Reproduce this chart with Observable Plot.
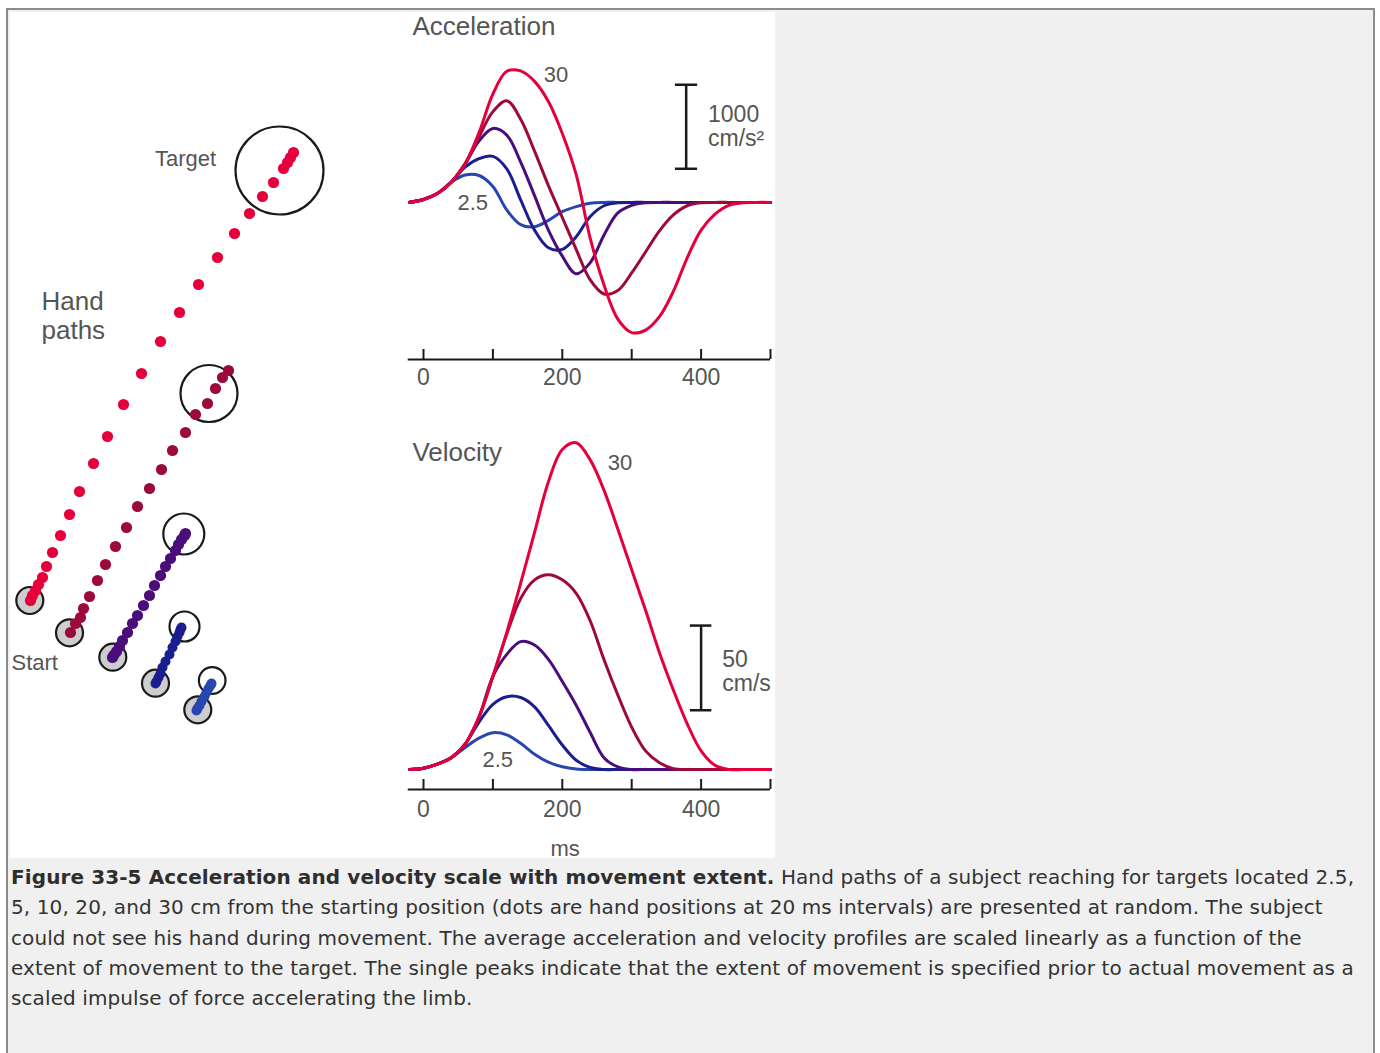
<!DOCTYPE html>
<html lang="en">
<head>
<meta charset="utf-8">
<title>Figure 33-5 Acceleration and velocity scale with movement extent</title>
<script src="https://cdn.jsdelivr.net/npm/d3@7"></script>
<script src="https://cdn.jsdelivr.net/npm/@observablehq/plot@0.6"></script>
<style>
  html, body { margin: 0; padding: 0; background: #ffffff; }
  #page { position: absolute; left: 6px; top: 8px; width: 1365px; height: 1060px;
          border: 2px solid #8c8c8c; border-bottom: none; background: #f0f0f0; }
  #figure { position: absolute; left: 2px; top: 2px; width: 765px; height: 846px; background: #ffffff; }
  #hands, #accel, #veloc { position: absolute; }
  #hands { left: 0; top: 0; }
  #accel { left: 395px; top: 0; }
  #veloc { left: 395px; top: 408px; }
  #caption { position: absolute; left: 3px; top: 852px; font-family: "DejaVu Sans", Verdana, sans-serif;
             font-size: 20px; line-height: 30.25px; letter-spacing: 0.1px; color: #333; white-space: nowrap; }
  #caption b { color: #2e2e2e; }
</style>
</head>
<body>
<div id="page">
  <div id="figure">
    <div id="hands"></div>
    <div id="accel"></div>
    <div id="veloc"></div>
  </div>
  <div id="caption"><b>Figure 33-5 Acceleration and velocity scale with movement extent.</b> Hand paths of a subject reaching for targets located 2.5,<br>5, 10, 20, and 30 cm from the starting position (dots are hand positions at 20 ms intervals) are presented at random. The subject<br>could not see his hand during movement. The average acceleration and velocity profiles are scaled linearly as a function of the<br>extent of movement to the target. The single peaks indicate that the extent of movement is specified prior to actual movement as a<br>scaled impulse of force accelerating the limb.</div>
</div>

<script>
// Movement extents (cm), drawn smallest first so the 30 cm trace sits on top
const extents = ["2.5", "5", "10", "20", "30"];
const extentColors = ["#2746b0", "#1b1e8f", "#4a0d7a", "#9b0a3a", "#e5003b"];

// Sample times (ms) for the averaged profiles
const timeMs = [-20, 0, 20, 40, 60, 80, 100, 120, 140, 160, 180, 200, 220, 240, 260,
                280, 300, 320, 340, 360, 380, 400, 420, 440, 460, 480, 500];
const timeTicks = [0, 100, 200, 300, 400, 500];
const timeLabels = [0, 200, 400];

// Acceleration profiles (cm/s^2)
const accel2_5 = [2, 35, 105, 240, 325, 320, 190, -90, -265, -290, -214, -110, -50, -10, 0, 0, 0, 0, 0, 0, 0, 0, 0, 0, 0, 0, 0];
const accel5   = [2, 35, 105, 240, 420, 520, 548, 400, 30, -330, -540, -560, -410, -170, -40, -5, 0, 0, 0, 0, 0, 0, 0, 0, 0, 0, 0];
const accel10  = [2, 35, 105, 240, 460, 730, 880, 800, 480, 80, -330, -640, -850, -720, -390, -125, -35, -5, 0, 0, 0, 0, 0, 0, 0, 0, 0];
const accel20  = [2, 35, 105, 240, 460, 780, 1080, 1210, 990, 610, 200, -180, -560, -920, -1090, -1050, -840, -590, -340, -150, -40, -5, 0, 0, 0, 0, 0];
const accel30  = [2, 35, 105, 240, 460, 830, 1290, 1560, 1565, 1440, 1200, 820, 330, -420, -980, -1390, -1550, -1520, -1360, -1060, -660, -330, -140, -35, -5, 0, 0];

// Velocity profiles (cm/s)
const veloc2_5 = [0, 0.8, 3.2, 7, 13, 18.5, 21.7, 20.5, 15.5, 9, 4.3, 1.6, 0.3, 0, 0, 0, 0, 0, 0, 0, 0, 0, 0, 0, 0, 0, 0];
const veloc5   = [0, 0.8, 3.2, 7, 15, 28, 38.5, 43, 42.5, 37, 26, 14.5, 5.5, 1.2, 0, 0, 0, 0, 0, 0, 0, 0, 0, 0, 0, 0, 0];
const veloc10  = [0, 0.8, 3.2, 7, 15, 31, 55, 68, 75.5, 73.5, 65, 52, 38, 22, 7, 1.5, 0, 0, 0, 0, 0, 0, 0, 0, 0, 0, 0];
const veloc20  = [0, 0.8, 3.2, 7, 15, 31, 55, 80, 101, 112, 115, 112, 104, 88, 65, 44, 25, 11, 4, 0.5, 0, 0, 0, 0, 0, 0, 0];
const veloc30  = [0, 0.8, 3.2, 7, 15, 31, 55, 81, 110, 140, 170, 189, 193, 183, 165, 142, 118, 94, 69, 47, 27, 11, 2.5, 0, 0, 0, 0];

// Hand positions every 20 ms, workspace units (x right, y up), start to target
const path2_5 = [[18.6,14.8],[18.7,15.0],[18.9,15.3],[19.1,15.7],[19.4,16.2],[19.6,16.6],[19.8,17.0],[20.0,17.3],[20.1,17.5]];
const path5   = [[14.5,17.5],[14.6,17.7],[14.8,18.1],[15.0,18.5],[15.2,19.1],[15.5,19.7],[15.9,20.4],[16.2,21.1],
                 [16.5,21.7],[16.7,22.2],[16.9,22.6],[17.0,22.9],[17.1,23.1]];
const path10  = [[10.2,20.1],[10.35,20.35],[10.6,20.7],[10.9,21.2],[11.2,21.8],[11.7,22.6],[12.2,23.5],[12.7,24.3],
                 [13.3,25.3],[13.9,26.3],[14.4,27.3],[15.0,28.3],[15.5,29.2],[16.0,30.0],[16.5,30.8],[16.8,31.4],
                 [17.1,31.9],[17.4,32.3],[17.5,32.5]];
const path20  = [[6.0,22.6],[6.5,23.5],[7.0,24.1],[7.3,25.0],[7.9,26.2],[8.7,27.8],[9.5,29.4],[10.5,31.2],[11.6,33.1],
                 [12.7,35.2],[13.9,37.0],[15.1,38.9],[16.2,40.8],[17.5,42.6],[18.5,44.4],[19.7,45.5],[20.5,47.0],
                 [21.2,48.1],[21.8,48.8]];
const path30  = [[2.0,25.8],[2.2,26.3],[2.5,26.8],[2.8,27.4],[3.2,28.1],[3.6,29.2],[4.2,30.6],[5.0,32.3],[5.9,34.4],
                 [6.9,36.7],[8.3,39.5],[9.7,42.2],[11.3,45.4],[13.1,48.5],[15.0,51.7],[16.9,54.6],[18.8,57.4],
                 [20.7,60.1],[22.4,62.5],[23.9,64.5],[25.2,66.2],[26.3,67.6],[27.3,69.0],[27.7,69.6],[28.0,70.1],[28.3,70.6]];

// Start positions and targets (centre x, centre y, target radius), same order as extents
const startPoints = [[18.73,14.87],[14.5,17.53],[10.23,20.13],[5.9,22.57],[1.93,25.8]];
const targets     = [[20.17,17.8,1.33],[17.4,23.2,1.5],[17.33,32.45,2.05],[19.85,46.5,2.85],[26.9,68.8,4.4]];

const LABEL_FONT = "'Liberation Sans', Arial, Helvetica, sans-serif";
const TEXT_GRAY = "#555";
const INK = "#1a1a1a";
const PX_PER_UNIT = 10;

function profileRows(seriesValues) {
  return extents.flatMap((extent, i) =>
    timeMs.map((t, j) => ({extent, t, v: seriesValues[i][j]})));
}

const accelRows = profileRows([accel2_5, accel5, accel10, accel20, accel30]);
const velocRows = profileRows([veloc2_5, veloc5, veloc10, veloc20, veloc30]);

const handDots = [path2_5, path5, path10, path20, path30]
  .flatMap((path, i) => path.map(([x, y]) => ({extent: extents[i], x, y})));
const startRows = startPoints.map(([x, y], i) => ({extent: extents[i], x, y}));
const targetRows = targets.map(([x, y, r], i) => ({extent: extents[i], x, y, r}));

const svgStyle = {fontFamily: LABEL_FONT, background: "transparent", overflow: "visible", maxWidth: "none"};

// Hand paths panel
const handsPlot = Plot.plot({
  width: 390, height: 846, margin: 0,
  style: svgStyle,
  x: {domain: [0, 39], axis: null},
  y: {domain: [0, 84.6], axis: null},
  r: {type: "identity"},
  color: {domain: extents, range: extentColors},
  marks: [
    Plot.dot(startRows, {x: "x", y: "y", r: 13.5, fill: "#cdcdcd", stroke: INK, strokeWidth: 2.2}),
    Plot.dot(targetRows, {x: "x", y: "y", r: d => d.r * PX_PER_UNIT, fill: "none", stroke: INK, strokeWidth: 2.2}),
    Plot.dot(handDots, {x: "x", y: "y", r: d => (d.extent === "2.5" || d.extent === "5") ? 5 : 5.6,
                        fill: "extent", stroke: null}),
    Plot.text(["Target"], {x: 17.5, y: 70.0, fontSize: 22, fill: TEXT_GRAY}),
    Plot.text(["Hand\npaths"], {x: 3.1, y: 54.35, textAnchor: "start", fontSize: 26, lineHeight: 1.12, fill: TEXT_GRAY}),
    Plot.text(["Start"], {x: 0.1, y: 19.6, textAnchor: "start", fontSize: 22, fill: TEXT_GRAY})
  ]
});
document.getElementById("hands").append(handsPlot);

// Acceleration panel
const accelBottom = -1870;
const accelPlot = Plot.plot({
  width: 370, height: 388,
  marginTop: 0, marginRight: 5, marginBottom: 41, marginLeft: 18,
  style: svgStyle,
  x: {domain: [0, 500], axis: null},
  y: {domain: [accelBottom, 2260], axis: null},
  color: {domain: extents, range: extentColors},
  marks: [
    Plot.ruleY([accelBottom], {x1: -22, x2: 500, stroke: INK, strokeWidth: 2}),
    Plot.tickX(timeTicks, {x: d => d, insetTop: 337, stroke: INK, strokeWidth: 2}),
    Plot.axisX({ticks: timeLabels, tickSize: 0, tickPadding: 9, fontSize: 23, color: TEXT_GRAY, label: null}),
    Plot.line(accelRows, {x: "t", y: "v", z: "extent", stroke: "extent", strokeWidth: 3, curve: "catmull-rom"}),
    Plot.ruleX([378.5], {y1: 400, y2: 1400, stroke: INK, strokeWidth: 2.5}),
    Plot.ruleY([400, 1400], {x1: 363, x2: 395, stroke: INK, strokeWidth: 2.5}),
    Plot.text(["1000\ncm/s²"], {x: 410, y: 905, textAnchor: "start", fontSize: 23, lineHeight: 1.05, fill: TEXT_GRAY}),
    Plot.text(["Acceleration"], {x: -16, y: 2095, textAnchor: "start", fontSize: 26, fill: TEXT_GRAY}),
    Plot.text(["30"], {x: 191, y: 1512, fontSize: 22, fill: TEXT_GRAY}),
    Plot.text(["2.5"], {x: 71, y: -6, fontSize: 22, fill: TEXT_GRAY})
  ]
});
document.getElementById("accel").append(accelPlot);

// Velocity panel
const velocBottom = -11.8;
const velocPlot = Plot.plot({
  width: 370, height: 438,
  marginTop: 0, marginRight: 5, marginBottom: 69, marginLeft: 18,
  style: svgStyle,
  x: {domain: [0, 500], axis: null},
  y: {domain: [velocBottom, 206.1], axis: null},
  color: {domain: extents, range: extentColors},
  marks: [
    Plot.ruleY([velocBottom], {x1: -22, x2: 500, stroke: INK, strokeWidth: 2}),
    Plot.tickX(timeTicks, {x: d => d, insetTop: 359, stroke: INK, strokeWidth: 2}),
    Plot.axisX({ticks: timeLabels, tickSize: 0, tickPadding: 11, fontSize: 23, color: TEXT_GRAY, label: null}),
    Plot.line(velocRows, {x: "t", y: "v", z: "extent", stroke: "extent", strokeWidth: 3, curve: "catmull-rom"}),
    Plot.ruleX([400], {y1: 35, y2: 85, stroke: INK, strokeWidth: 2.5}),
    Plot.ruleY([35, 85], {x1: 384.5, x2: 415.5, stroke: INK, strokeWidth: 2.5}),
    Plot.text(["50\ncm/s"], {x: 430.5, y: 58, textAnchor: "start", fontSize: 23, lineHeight: 1.05, fill: TEXT_GRAY}),
    Plot.text(["Velocity"], {x: -16, y: 187, textAnchor: "start", fontSize: 26, fill: TEXT_GRAY}),
    Plot.text(["30"], {x: 283, y: 181, fontSize: 22, fill: TEXT_GRAY}),
    Plot.text(["2.5"], {x: 107, y: 5.6, fontSize: 22, fill: TEXT_GRAY}),
    Plot.text(["ms"], {x: 204, frameAnchor: "bottom", dy: 66, fontSize: 22, fill: TEXT_GRAY})
  ]
});
document.getElementById("veloc").append(velocPlot);
</script>
</body>
</html>
